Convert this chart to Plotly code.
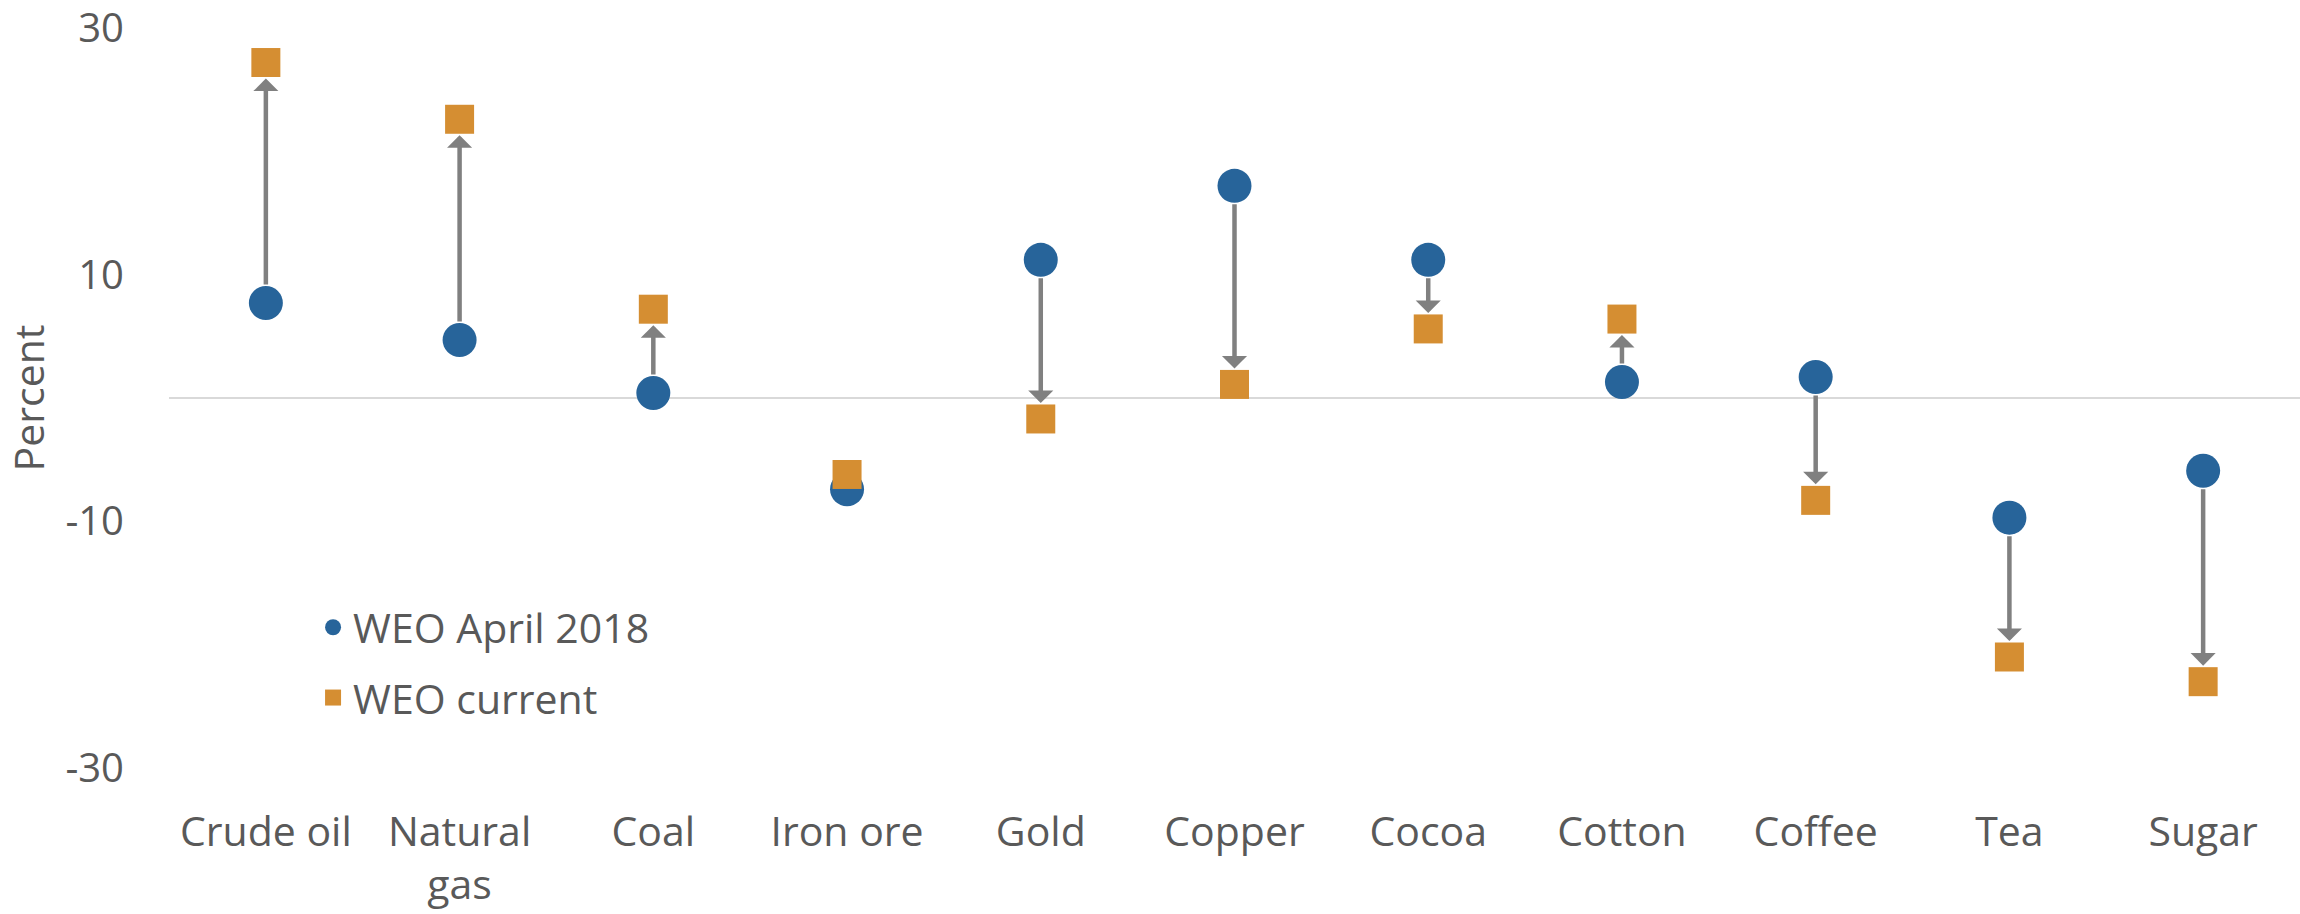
import plotly.graph_objects as go

categories = ["Crude oil", "Natural<br>gas", "Coal", "Iron ore", "Gold", "Copper",
              "Cocoa", "Cotton", "Coffee", "Tea", "Sugar"]
weo_april_2018 = [7.7, 4.7, 0.4, -7.4, 11.2, 17.2, 11.2, 1.3, 1.7, -9.7, -5.9]
weo_current = [27.2, 22.6, 7.2, -6.2, -1.7, 1.1, 5.6, 6.4, -8.3, -21.0, -23.0]
y_ticks = [-30, -10, 10, 30]
y_tick_labels = ["-30", "-10", "10", "30"]

BLUE = "#27649A"
ORANGE = "#D58E32"
GRAY = "#808080"
TEXT = "#595959"
FONT = "Open Sans"

fig = go.Figure()
fig.add_trace(go.Scatter(
    x=categories, y=weo_april_2018, mode="markers", name="WEO April 2018",
    legendgroup="a",
    marker=dict(symbol="circle", size=34, color=BLUE, line=dict(width=0)),
))
fig.add_trace(go.Scatter(
    x=categories, y=weo_current, mode="markers", name="WEO current",
    legendgroup="b",
    marker=dict(symbol="square", size=29, color=ORANGE, line=dict(width=0)),
))

for c, a, b in zip(categories, weo_april_2018, weo_current):
    if abs(b - a) < 3:
        continue
    fig.add_annotation(
        x=c, y=b, ax=c, ay=a, xref="x", yref="y", axref="x", ayref="y",
        text="", showarrow=True, arrowhead=1, arrowsize=0.93, arrowwidth=4.5,
        arrowcolor=GRAY, standoff=16, startstandoff=17,
    )

fig.update_layout(
    width=2300, height=914,
    margin=dict(l=169, r=0, t=28, b=146, autoexpand=False),
    paper_bgcolor="white", plot_bgcolor="white",
    font=dict(family=FONT, size=40, color=TEXT),
    showlegend=True,
    legend=dict(
        x=0.0676, y=0.235, xanchor="left", yanchor="top",
        font=dict(family=FONT, size=41, color=TEXT),
        bgcolor="rgba(0,0,0,0)", tracegroupgap=14,
    ),
    xaxis=dict(
        type="category", range=[-0.5, 10.5], showgrid=False, zeroline=False,
        showline=False, ticks="", ticklabelstandoff=36, automargin=False,
        tickfont=dict(family=FONT, size=41, color=TEXT),
    ),
    yaxis=dict(
        range=[-30, 30], tickvals=y_ticks, ticktext=y_tick_labels,
        showgrid=False, zeroline=True, ticklabeloverflow="allow",
        zerolinecolor="#D9D9D9", zerolinewidth=2, showline=False, ticks="",
        ticklabelstandoff=44, automargin=False,
        tickfont=dict(family=FONT, size=40, color=TEXT),
        title=dict(text="Percent", standoff=24,
                   font=dict(family=FONT, size=41, color=TEXT)),
    ),
)

fig.write_html("out.html")
